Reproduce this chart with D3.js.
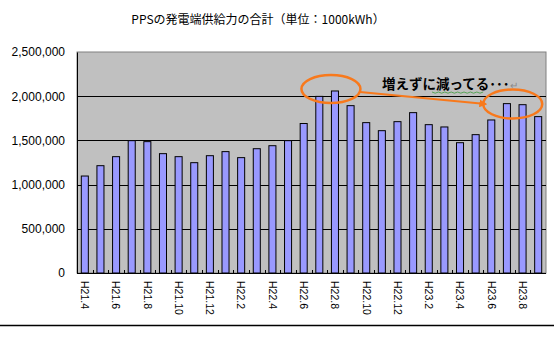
<!DOCTYPE html>
<html>
<head>
<meta charset="utf-8">
<script src="https://cdn.jsdelivr.net/npm/d3@7/dist/d3.min.js"></script>
<style>
  html, body { margin: 0; padding: 0; background: #fff; }
  svg { display: block; }
</style>
</head>
<body>
<svg id="chart" width="554" height="339"></svg>
<script>
// Monthly totals, H21.4 – H23.9 (unit: 1000kWh)
const months = [
  "H21.4","H21.5","H21.6","H21.7","H21.8","H21.9","H21.10","H21.11","H21.12",
  "H22.1","H22.2","H22.3","H22.4","H22.5","H22.6","H22.7","H22.8","H22.9",
  "H22.10","H22.11","H22.12","H23.1","H23.2","H23.3","H23.4","H23.5","H23.6",
  "H23.7","H23.8","H23.9"
];
const supply = [
  1097000, 1214000, 1316000, 1497000, 1486000, 1350000, 1316000, 1248000, 1327000,
  1373000, 1305000, 1406000, 1440000, 1497000, 1691000, 1998000, 2059000, 1893000,
  1701000, 1610000, 1712000, 1814000, 1678000, 1652000, 1474000, 1565000, 1731000,
  1916000, 1904000, 1769000
];
const yTicks = [0, 500000, 1000000, 1500000, 2000000, 2500000];
const titleText = "PPSの発電端供給力の合計（単位：1000kWh）";
const noteText = "増えずに減ってる･･･";

const svg = d3.select("#chart");
const plot = { left: 77, right: 546, top: 52, bottom: 273 };

const x = d3.scaleBand().domain(months).range([plot.left, plot.right]).padding(0);
const y = d3.scaleLinear().domain([0, 2500000]).range([plot.bottom, plot.top]);

// Title
svg.append("text")
  .attr("x", 258).attr("y", 24)
  .attr("text-anchor", "middle")
  .style("font-family", "'Noto Sans CJK JP', sans-serif")
  .style("font-size", "12px")
  .attr("fill", "#000")
  .text(titleText);

// Plot background
svg.append("rect")
  .attr("x", plot.left).attr("y", plot.top)
  .attr("width", plot.right - plot.left).attr("height", plot.bottom - plot.top)
  .attr("fill", "#c0c0c0").attr("stroke", "#808080").attr("stroke-width", 1);

// Gridlines
svg.append("g")
  .selectAll("line")
  .data(yTicks.filter(d => d > 0 && d < 2500000))
  .join("line")
  .attr("x1", plot.left).attr("x2", plot.right)
  .attr("y1", d => Math.round(y(d)) + 0.5).attr("y2", d => Math.round(y(d)) + 0.5)
  .attr("stroke", "#000").attr("stroke-width", 1);

// Y axis labels
const yAxis = d3.axisLeft(y).tickValues(yTicks).tickSize(0).tickPadding(12)
  .tickFormat(d3.format(","));
svg.append("g")
  .attr("transform", `translate(${plot.left},0)`)
  .call(yAxis)
  .call(g => g.select(".domain").attr("stroke", "#000"))
  .call(g => g.selectAll("text")
    .style("font-family", "'Liberation Sans', Arial, sans-serif")
    .style("font-size", "12px")
    .attr("fill", "#000"));

// Bars
const barW = x.bandwidth() * 0.45;
svg.append("g")
  .selectAll("rect")
  .data(months.map((m, i) => ({ m, v: supply[i] })))
  .join("rect")
  .attr("x", d => x(d.m) + (x.bandwidth() - barW) / 2)
  .attr("y", d => y(d.v))
  .attr("width", barW)
  .attr("height", d => y(0) - y(d.v))
  .attr("fill", "#9999ff")
  .attr("stroke", "#000")
  .attr("stroke-width", 1);

// X axis: baseline, inner ticks at category boundaries, rotated labels every 2 months
const xg = svg.append("g").attr("transform", `translate(0,${plot.bottom})`);
xg.append("line")
  .attr("x1", plot.left).attr("x2", plot.right)
  .attr("y1", 0.5).attr("y2", 0.5)
  .attr("stroke", "#000");
xg.selectAll("line.tick")
  .data(months.slice(1))
  .join("line")
  .attr("class", "tick")
  .attr("x1", d => Math.round(x(d)) + 0.5).attr("x2", d => Math.round(x(d)) + 0.5)
  .attr("y1", 0).attr("y2", -3)
  .attr("stroke", "#000");
xg.selectAll("text")
  .data(months.filter((m, i) => i % 2 === 0))
  .join("text")
  .attr("transform", d => `translate(${x(d) + x.bandwidth() / 2},8) rotate(90)`)
  .attr("dy", "0.35em")
  .style("font-family", "'Liberation Sans', Arial, sans-serif")
  .style("font-size", "10.5px")
  .attr("fill", "#000")
  .text(d => d);

// Annotation: two highlighted peaks joined by an arrow
const orange = "#f8791c";
const defs = svg.append("defs");
defs.append("marker")
  .attr("id", "arrowhead")
  .attr("viewBox", "0 0 10 10")
  .attr("refX", 8).attr("refY", 5)
  .attr("markerWidth", 4).attr("markerHeight", 4)
  .attr("orient", "auto")
  .append("path").attr("d", "M0,0 L10,5 L0,10 z").attr("fill", orange);

const peakA = x("H22.8") + x.bandwidth() / 2 - 4;
const peakB = (x("H23.7") + x("H23.8")) / 2 + x.bandwidth() / 2 - 2;

svg.append("ellipse")
  .attr("cx", peakA).attr("cy", 89).attr("rx", 29.5).attr("ry", 14)
  .attr("fill", "none").attr("stroke", orange).attr("stroke-width", 2.5);
svg.append("ellipse")
  .attr("cx", peakB).attr("cy", 104).attr("rx", 29.5).attr("ry", 14.5)
  .attr("fill", "none").attr("stroke", orange).attr("stroke-width", 2.5);
svg.append("line")
  .attr("x1", peakA + 29).attr("y1", 92)
  .attr("x2", peakB - 27).attr("y2", 104)
  .attr("stroke", orange).attr("stroke-width", 2)
  .attr("marker-end", "url(#arrowhead)");

const note = svg.append("text")
  .attr("x", 382).attr("y", 89)
  .style("font-family", "'Noto Sans CJK JP', sans-serif")
  .style("font-size", "13.5px")
  .style("font-weight", "bold")
  .attr("fill", "#000")
  .text(noteText);
note.append("tspan")
  .attr("fill", "#8a8a8a")
  .style("font-weight", "normal")
  .style("font-size", "10px")
  .text("↵");

// Wavy underline beneath part of the note
const wave = d3.range(0, 17).map(i => [432 + i * 3.2, 92 + (i % 2 ? 1.2 : 0)]);
svg.append("path")
  .attr("d", d3.line()(wave))
  .attr("fill", "none").attr("stroke", "#3c9a3c").attr("stroke-width", 0.8);

// Rule below the chart
svg.append("line")
  .attr("x1", 0).attr("x2", 554)
  .attr("y1", 325.5).attr("y2", 325.5)
  .attr("stroke", "#000").attr("stroke-width", 1.5);
</script>
</body>
</html>
